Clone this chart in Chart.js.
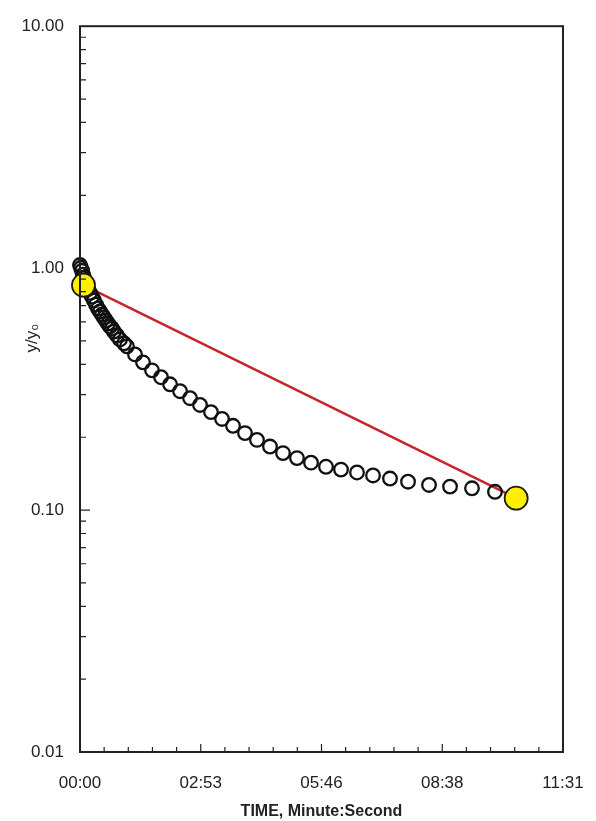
<!DOCTYPE html>
<html>
<head>
<meta charset="utf-8">
<script src="https://cdn.jsdelivr.net/npm/chart.js@4.4.1/dist/chart.umd.min.js"></script>
<style>
  html, body { margin: 0; padding: 0; background: #fff; }
  #wrap { width: 596px; height: 821px; position: relative; }
</style>
</head>
<body>
<div id="wrap"><canvas id="decay-chart"></canvas></div>
<script>
// Measured ratio y/y0 against elapsed time (seconds)
const timeSec = [0, 1.4, 2.9, 4.3, 5.7, 7.2, 8.6, 10.0, 11.4, 14.3, 17.2, 20.0, 22.9, 25.8,
  28.6, 31.5, 34.3, 37.2, 40.1, 42.9, 45.8, 48.6, 52.9, 57.2, 63.0,
  67.2, 78.7, 90.1, 103.0, 115.9, 128.8, 143.1, 157.4, 171.7, 187.4, 203.2, 218.9, 236.0,
  253.2, 271.8, 290.4, 310.4, 330.5, 351.9, 373.4, 396.3, 419.2, 443.5, 469.3, 499.3,
  529.4, 560.8, 593.7, 622.3];
const ratio = [1.03, 1.003, 0.975, 0.939, 0.912, 0.886, 0.861, 0.846, 0.818, 0.790, 0.762,
  0.735, 0.707, 0.681, 0.662, 0.643, 0.625, 0.607, 0.590, 0.574, 0.563, 0.547, 0.527,
  0.507, 0.489,
  0.475, 0.440, 0.408, 0.378, 0.354, 0.331, 0.310, 0.290, 0.272,
  0.254, 0.238, 0.223, 0.208, 0.195, 0.183, 0.172, 0.164, 0.157, 0.151, 0.147, 0.143,
  0.139, 0.135, 0.131, 0.127, 0.125, 0.123, 0.119, 0.116];

// Two picked points joined by the red line
const fitTime = [5, 624];
const fitRatio = [0.85, 0.112];

// Axis ticks
const xTickValues = [0, 172.75, 345.5, 518.25, 691];
const xTickLabels = ['00:00', '02:53', '05:46', '08:38', '11:31'];
const yTickValues = [0.01, 0.1, 1, 10];
const yTickLabels = ['0.01', '0.10', '1.00', '10.00'];

const toXY = (xs, ys) => xs.map((x, i) => ({ x: x, y: ys[i] }));

// Frame box, inward ticks and the rotated y label
const framePlugin = {
  id: 'frame',
  afterDraw(chart) {
    const { ctx, chartArea: a, scales } = chart;
    const xs = scales.x, ys = scales.y;
    ctx.save();
    ctx.strokeStyle = '#222';
    ctx.lineWidth = 1.2;
    ctx.beginPath();
    // y ticks: majors at decades, minors 2..9
    for (let d = -2; d < 1; d++) {
      for (let m = 1; m <= 9; m++) {
        const v = m * Math.pow(10, d);
        const py = ys.getPixelForValue(v);
        const len = m === 1 ? 10 : 6;
        ctx.moveTo(a.left, py);
        ctx.lineTo(a.left + len, py);
      }
    }
    // x ticks: majors and 4 minors between
    const step = (xTickValues[1] - xTickValues[0]) / 5;
    for (let k = 0; k <= 20; k++) {
      const px = xs.getPixelForValue(k * step);
      const len = k % 5 === 0 ? 8 : 5;
      ctx.moveTo(px, a.bottom);
      ctx.lineTo(px, a.bottom - len);
    }
    ctx.stroke();
    ctx.lineWidth = 2;
    ctx.strokeRect(a.left, a.top, a.right - a.left, a.bottom - a.top);
    // y axis title
    ctx.translate(32, 338);
    ctx.rotate(-Math.PI / 2);
    ctx.fillStyle = '#222';
    ctx.font = '17px "Liberation Sans", Arial, sans-serif';
    ctx.textAlign = 'center';
    ctx.textBaseline = 'middle';
    ctx.fillText('y/y\u2080', 0, 0);
    ctx.restore();
  }
};

new Chart(document.getElementById('decay-chart'), {
  type: 'scatter',
  data: {
    datasets: [
      {
        label: 'Line',
        data: toXY(fitTime, fitRatio),
        showLine: true,
        borderColor: '#c4262b',
        borderWidth: 2.5,
        pointRadius: 0,
        order: 3,
        clip: false
      },
      {
        label: 'Measured',
        data: toXY(timeSec, ratio),
        pointStyle: 'circle',
        pointRadius: 6.8,
        pointBorderWidth: 2.3,
        pointBorderColor: '#111',
        pointBackgroundColor: 'rgba(0,0,0,0)',
        order: 2,
        clip: false
      },
      {
        label: 'Picked',
        data: toXY(fitTime, fitRatio),
        pointRadius: 11.5,
        pointBorderWidth: 1.8,
        pointBorderColor: '#1a1a1a',
        pointBackgroundColor: '#fff000',
        order: 1,
        clip: false
      }
    ]
  },
  options: {
    responsive: true,
    maintainAspectRatio: false,
    animation: false,
    layout: { padding: { left: 0, right: 33, top: 22, bottom: 0 } },
    plugins: {
      legend: { display: false },
      tooltip: { enabled: false }
    },
    scales: {
      x: {
        type: 'linear',
        min: 0,
        max: 691,
        grid: { display: false, drawTicks: false },
        border: { display: false },
        afterBuildTicks: (scale) => { scale.ticks = xTickValues.map(v => ({ value: v })); },
        afterFit: (scale) => {
          scale.height = 69;
          scale.paddingLeft = 0;
          scale.paddingRight = 0;
        },
        ticks: {
          autoSkip: false,
          maxRotation: 0,
          padding: 21,
          color: '#222',
          font: { family: '"Liberation Sans", Arial, sans-serif', size: 17 },
          callback: (v, i) => xTickLabels[i]
        },
        title: {
          display: true,
          text: 'TIME, Minute:Second',
          color: '#222',
          padding: { top: 0, bottom: 0 },
          font: { family: '"Liberation Sans", Arial, sans-serif', size: 16, weight: 'bold' }
        }
      },
      y: {
        type: 'logarithmic',
        min: 0.01,
        max: 10,
        grid: { display: false, drawTicks: false },
        border: { display: false },
        afterBuildTicks: (scale) => { scale.ticks = yTickValues.map(v => ({ value: v })); },
        afterFit: (scale) => { scale.width = 80; },
        ticks: {
          autoSkip: false,
          padding: 16,
          color: '#222',
          font: { family: '"Liberation Sans", Arial, sans-serif', size: 17 },
          callback: (v, i) => yTickLabels[i]
        }
      }
    }
  },
  plugins: [framePlugin]
});
</script>
</body>
</html>
